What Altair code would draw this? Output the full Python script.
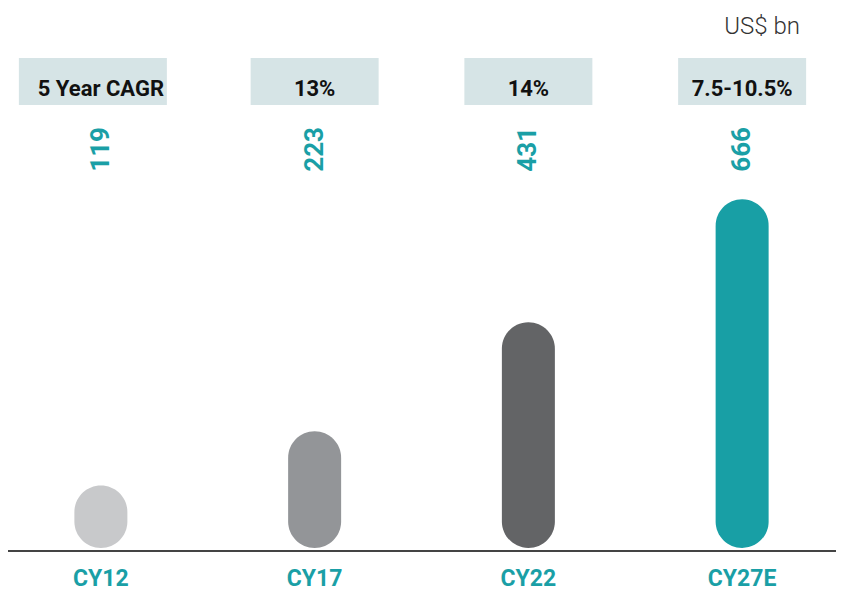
import altair as alt
import pandas as pd

years = ["CY12", "CY17", "CY22", "CY27E"]
values = [119, 223, 431, 666]
cagr = ["5 Year CAGR", "13%", "14%", "7.5-10.5%"]
colors = ["#C8C9CB", "#939598", "#636466", "#189FA5"]

df = pd.DataFrame({"year": years, "value": values, "cagr": cagr})

W, H = 828, 542
xscale = alt.Scale(domain=years, range=[-14, 841], paddingInner=0, paddingOuter=0)
yscale = alt.Scale(domain=[-4, 1031], nice=False, zero=False)

base = alt.Chart(df).encode(
    x=alt.X("year:N", scale=xscale, sort=years,
            axis=alt.Axis(title=None, domain=False, ticks=False, labelAngle=0,
                          labelFont="Roboto", labelFontWeight="bold",
                          labelFontSize=23, labelColor="#1A9FA6", labelPadding=17,
                          labelBaseline="top"))
)

bars = base.mark_bar(size=53, cornerRadius=26.5).encode(
    y=alt.Y("value:Q", scale=yscale, axis=None),
    y2=alt.datum(0),
    color=alt.Color("year:N", scale=alt.Scale(domain=years, range=colors), legend=None),
)

first = alt.datum.cagr == "5 Year CAGR"
box_first = base.mark_bar(color="#D6E4E6", size=148, xOffset=-8).encode(
    y=alt.value(50), y2=alt.value(97)).transform_filter(first)
box_rest = base.mark_bar(color="#D6E4E6", size=128).encode(
    y=alt.value(50), y2=alt.value(97)).transform_filter(~first)

box_text = base.mark_text(font="Roboto", fontWeight="bold", fontSize=22, color="#111111",
                          baseline="middle").encode(
    y=alt.value(81), text="cagr:N")

val_text = base.mark_text(font="Roboto", fontWeight="bold", fontSize=26, color="#1A9FA6",
                          angle=270, align="right", baseline="middle").encode(
    y=alt.value(119), text="value:Q")

baseline = alt.Chart(df).mark_rule(color="#444444", strokeWidth=2).encode(
    x=alt.value(0), x2=alt.value(W), y=alt.value(H + 1))

unit = alt.Chart(pd.DataFrame({"t": ["US$ bn"]})).mark_text(
    font="Roboto", fontWeight=300, fontSize=24, color="#333333", align="right",
    baseline="middle").encode(x=alt.value(792), y=alt.value(19), text="t:N")

chart = alt.layer(box_first, box_rest, box_text, val_text, bars, baseline, unit).properties(
    width=W, height=H,
    autosize=alt.AutoSizeParams(type="none"),
    padding={"left": 0, "top": 0, "right": 0, "bottom": 42},
).configure_view(stroke=None)

chart.save("out.html", embed_options={"renderer": "svg", "actions": False})
